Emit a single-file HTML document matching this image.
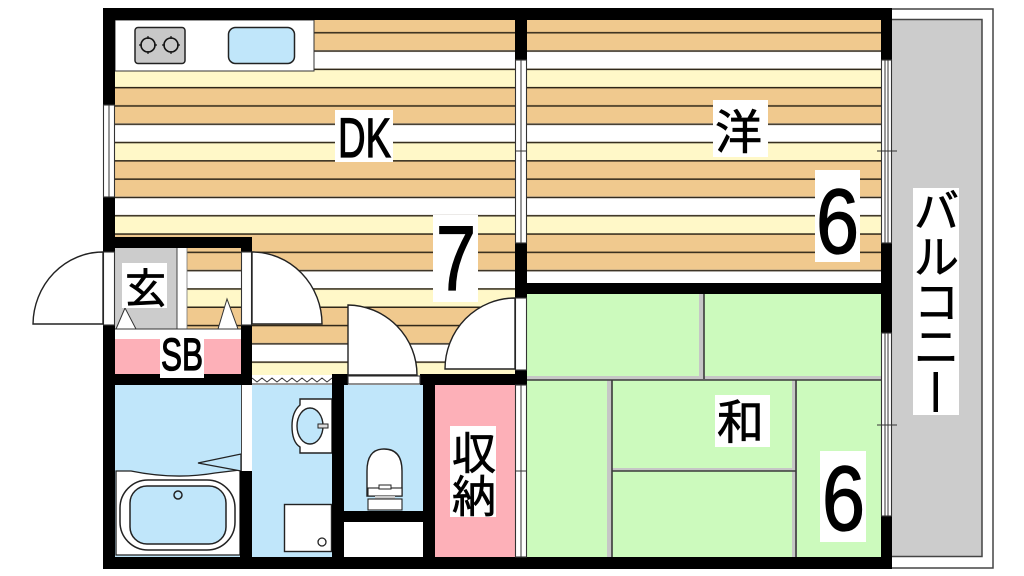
<!DOCTYPE html>
<html><head><meta charset="utf-8"><style>
html,body{margin:0;padding:0;background:#fff;width:1024px;height:576px;overflow:hidden}
svg{display:block}
text{font-family:"Liberation Sans","Noto Sans CJK JP",sans-serif;fill:#000;stroke:#000;stroke-width:.7}
text.d{stroke-width:1.3}
</style></head><body>
<svg width="1024" height="576" viewBox="0 0 1024 576" xmlns="http://www.w3.org/2000/svg">
<defs>
<pattern id="fl" patternUnits="userSpaceOnUse" x="0" y="13.7" width="10" height="73.2">
<rect width="10" height="36.6" fill="#f0c98e"/>
<rect y="36.6" width="10" height="18.3" fill="#fff"/>
<rect y="54.9" width="10" height="18.3" fill="#fff8c8"/>
<rect y="0" width="10" height="1.5" fill="#2e2618"/>
<rect y="18.3" width="10" height="1.5" fill="#2e2618"/>
<rect y="36.6" width="10" height="1.5" fill="#2e2618"/>
<rect y="54.9" width="10" height="1.5" fill="#2e2618"/>
</pattern>
</defs>
<rect width="1024" height="576" fill="#fff"/>

<!-- balcony -->
<rect x="887" y="9" width="106" height="559" fill="#fff" stroke="#444" stroke-width="1.5"/>
<rect x="890" y="19.5" width="92" height="537" fill="#cccccc" stroke="#444" stroke-width="1.5"/>

<!-- floors -->
<rect x="115" y="20" width="400" height="355" fill="url(#fl)"/>
<rect x="527" y="20" width="354" height="263" fill="url(#fl)"/>
<rect x="527" y="294" width="354" height="263" fill="#ccfabd"/>

<!-- tatami lines -->
<g fill="#c6c6c6">
<rect x="699" y="294" width="5" height="84"/>
<rect x="527" y="376" width="354" height="4"/>
<rect x="607" y="380" width="5" height="177"/>
<rect x="792" y="380" width="5" height="177"/>
<rect x="612" y="468" width="180" height="3"/>
</g>
<g stroke="#3a3a3a" stroke-width="1.6">
<line x1="704" y1="294" x2="704" y2="379"/>
<line x1="527" y1="380" x2="881" y2="380"/>
<line x1="612" y1="380" x2="612" y2="557"/>
<line x1="796" y1="380" x2="796" y2="557"/>
<line x1="612" y1="471" x2="796" y2="471"/>
</g>

<!-- genkan -->
<rect x="115" y="248" width="62" height="81" fill="#cccccc"/>
<rect x="177" y="248" width="10" height="81" fill="#fff"/>
<line x1="177" y1="248" x2="177" y2="329" stroke="#444" stroke-width="1"/>
<line x1="187" y1="248" x2="187" y2="329" stroke="#777" stroke-width="0.8"/>
<rect x="115" y="329" width="126" height="10" fill="#fff"/>
<line x1="115" y1="329" x2="241" y2="329" stroke="#333" stroke-width="1"/>
<rect x="115" y="339" width="126" height="35" fill="#fdb0b8"/>
<polygon points="125,308 116,329 136,329" fill="#fff" stroke="#333" stroke-width="1"/>
<polygon points="227,299 218,329 238,329" fill="#fff" stroke="#333" stroke-width="1"/>

<!-- wet rooms -->
<rect x="115" y="385" width="126" height="172" fill="#c0e6fa"/>
<rect x="252" y="385" width="80" height="172" fill="#c0e6fa"/>
<rect x="344" y="385" width="79" height="126" fill="#c0e6fa"/>
<rect x="344" y="522" width="79" height="35" fill="#fff"/>
<rect x="435" y="385" width="80" height="172" fill="#fdb0b8"/>

<!-- zigzag -->
<rect x="252" y="376" width="80" height="9" fill="#fff"/>
<polyline points="252,378 257,382 262,378 267,382 272,378 277,382 282,378 287,382 292,378 297,382 302,378 307,382 312,378 317,382 322,378 327,382 332,378" fill="none" stroke="#333" stroke-width="1"/>
<line x1="252" y1="384" x2="332" y2="384" stroke="#333" stroke-width="1"/>

<!-- kitchen -->
<rect x="115" y="20" width="199" height="51" fill="#fff" stroke="#333" stroke-width="1"/>
<rect x="135" y="27.500" width="50" height="36" rx="3" fill="#c8c8c8" stroke="#222" stroke-width="1.5"/>
<g fill="none" stroke="#111" stroke-width="1.6">
<circle cx="148" cy="45" r="7"/>
<circle cx="171" cy="45" r="7"/>
<path d="M148 36v3M148 51v3M139 45h3M154 45h3M171 36v3M171 51v3M162 45h3M177 45h3" stroke-width="1.2"/>
</g>
<rect x="228.500" y="27.500" width="66" height="36" rx="7" fill="#c0e6fa" stroke="#222" stroke-width="1.5"/>

<!-- bath -->
<path d="M116 471 L131 471 Q175 480 215 473 L240 470 L240 555 L116 555 Z" fill="#fff" stroke="#222" stroke-width="1.3"/>
<path d="M198 463 L241 454 L241 471 Z" fill="#c0e6fa" stroke="#222" stroke-width="1.3"/>
<rect x="241" y="385" width="11" height="86" fill="#fff"/>
<line x1="241.500" y1="385" x2="241.500" y2="471" stroke="#444" stroke-width="1"/>
<rect x="120" y="480" width="115" height="70" rx="28" fill="#fff" stroke="#222" stroke-width="1.5"/>
<rect x="130" y="486" width="96" height="58" rx="17" fill="#c0e6fa" stroke="#222" stroke-width="1.5"/>
<circle cx="178" cy="495" r="4" fill="none" stroke="#222" stroke-width="1.500"/>

<!-- basin & washer -->
<path d="M332 399 L300 399 L300 405 Q292 412 292 426 Q292 442 300 447 L300 453 L332 453 Z" fill="#fff" stroke="#222" stroke-width="1.4"/>
<ellipse cx="310" cy="426" rx="13" ry="18" fill="#c0e6fa" stroke="#222" stroke-width="1.4"/>
<rect x="318" y="424" width="10" height="4" fill="#ddd" stroke="#222" stroke-width="1"/>
<rect x="284.500" y="504.500" width="47" height="47" fill="#fff" stroke="#222" stroke-width="1.4"/>
<circle cx="322" cy="542" r="4" fill="none" stroke="#222" stroke-width="1.3"/>

<!-- toilet -->
<path d="M367 496 L367 471 Q367 449 384 449 Q402 449 402 471 L402 496 Z" fill="#fff" stroke="#222" stroke-width="1.4"/>
<rect x="368" y="488" width="34" height="8" fill="#fff" stroke="#222" stroke-width="1.1"/>
<rect x="379" y="485" width="12" height="4" fill="#fff" stroke="#222" stroke-width="1"/>
<rect x="375" y="496" width="20" height="3" fill="#ccc"/>
<rect x="368" y="499" width="34" height="11" fill="#fff" stroke="#222" stroke-width="1.1"/>

<!-- walls -->
<g fill="#000">
<rect x="103" y="8" width="789" height="12"/>
<rect x="103" y="557" width="789" height="12"/>
<rect x="103" y="8" width="12" height="97"/>
<rect x="103" y="197" width="12" height="55"/>
<rect x="103" y="325" width="12" height="244"/>
<rect x="103" y="237" width="149" height="11"/>
<rect x="241" y="237" width="11" height="15"/>
<rect x="241" y="325" width="11" height="60"/>
<rect x="103" y="374" width="149" height="11"/>
<rect x="240" y="471" width="12" height="86"/>
<rect x="332" y="374" width="12" height="195"/>
<rect x="332" y="374" width="16" height="11"/>
<rect x="420" y="374" width="107" height="11"/>
<rect x="423" y="374" width="12" height="195"/>
<rect x="344" y="511" width="79" height="11"/>
<rect x="515" y="8" width="12" height="52"/>
<rect x="515" y="243" width="12" height="55"/>
<rect x="515" y="283" width="377" height="11"/>
<rect x="515" y="370" width="12" height="15"/>
<rect x="881" y="8" width="11" height="52"/>
<rect x="881" y="243" width="11" height="90"/>
<rect x="881" y="516" width="11" height="53"/>
</g>

<!-- windows / openings -->
<g fill="#fff" stroke="#333" stroke-width="1.1">
<rect x="103.500" y="105" width="11" height="92"/>
<rect x="103.500" y="252" width="11" height="73"/>
<rect x="241.500" y="252" width="10" height="73"/>
<rect x="515.500" y="60" width="11" height="183"/>
<rect x="515.500" y="298" width="11" height="72"/>
<rect x="515.500" y="385" width="11" height="172"/>
<rect x="881.500" y="60" width="10" height="183"/>
<rect x="881.500" y="333" width="10" height="183"/>
<rect x="348" y="376" width="72" height="8"/>
</g>
<g stroke="#333" stroke-width="1">
<line x1="885" y1="60" x2="885" y2="243"/>
<line x1="888" y1="60" x2="888" y2="243"/>
<line x1="885" y1="333" x2="885" y2="516"/>
<line x1="888" y1="333" x2="888" y2="516"/>
<line x1="109" y1="105" x2="109" y2="197"/>
<line x1="521" y1="60" x2="521" y2="243"/>
<line x1="521" y1="385" x2="521" y2="557"/>
<line x1="877" y1="151" x2="897" y2="151"/>
<line x1="877" y1="425" x2="897" y2="425"/>
<line x1="516" y1="151" x2="526" y2="151"/>
<line x1="516" y1="471" x2="526" y2="471"/>
</g>

<!-- doors -->
<g fill="#fff" stroke="#222" stroke-width="1.4">
<path d="M103 252 A70 73 0 0 0 33 324 L103 324 Z"/>
<path d="M252 252 A70 72 0 0 1 322 324 L252 324 Z"/>
<path d="M348 305 A70 70 0 0 1 417 375 L348 375 Z"/>
<path d="M515 298 A70 71 0 0 0 445 369 L515 369 Z"/>
</g>

<!-- labels -->
<g fill="#fff">
<rect x="335" y="110" width="58" height="52"/>
<rect x="713" y="100" width="55" height="57"/>
<rect x="433" y="215" width="45" height="87"/>
<rect x="815" y="170" width="45" height="92"/>
<rect x="820" y="451" width="46" height="91"/>
<rect x="715" y="395" width="55" height="52"/>
<rect x="450" y="426" width="46" height="91"/>
<rect x="122" y="263" width="45" height="45"/>
<rect x="160" y="336" width="44" height="42"/>
<rect x="913" y="188" width="46" height="227"/>
</g>
<text class="d" x="338" y="157" font-size="56" textLength="53" lengthAdjust="spacingAndGlyphs">DK</text>
<text x="715" y="149" font-size="47">洋</text>
<text class="d" x="436" y="290" font-size="92" textLength="40" lengthAdjust="spacingAndGlyphs">7</text>
<text class="d" x="816" y="253" font-size="92" textLength="43" lengthAdjust="spacingAndGlyphs">6</text>
<text class="d" x="822" y="530" font-size="92" textLength="43" lengthAdjust="spacingAndGlyphs">6</text>
<text x="717" y="439" font-size="47">和</text>
<text x="452" y="469" font-size="44">収</text>
<text x="452" y="512" font-size="44">納</text>
<text x="125" y="303" font-size="41">玄</text>
<text class="d" x="161" y="370" font-size="45" textLength="42" lengthAdjust="spacingAndGlyphs">SB</text>
<text x="914" y="227" font-size="45">バ</text>
<text x="914" y="273" font-size="45">ル</text>
<text x="914" y="318" font-size="45">コ</text>
<text x="914" y="363" font-size="45">ニ</text>
<rect x="933.500" y="372" width="4.500" height="40" fill="#000"/>
</svg>
</body></html>
